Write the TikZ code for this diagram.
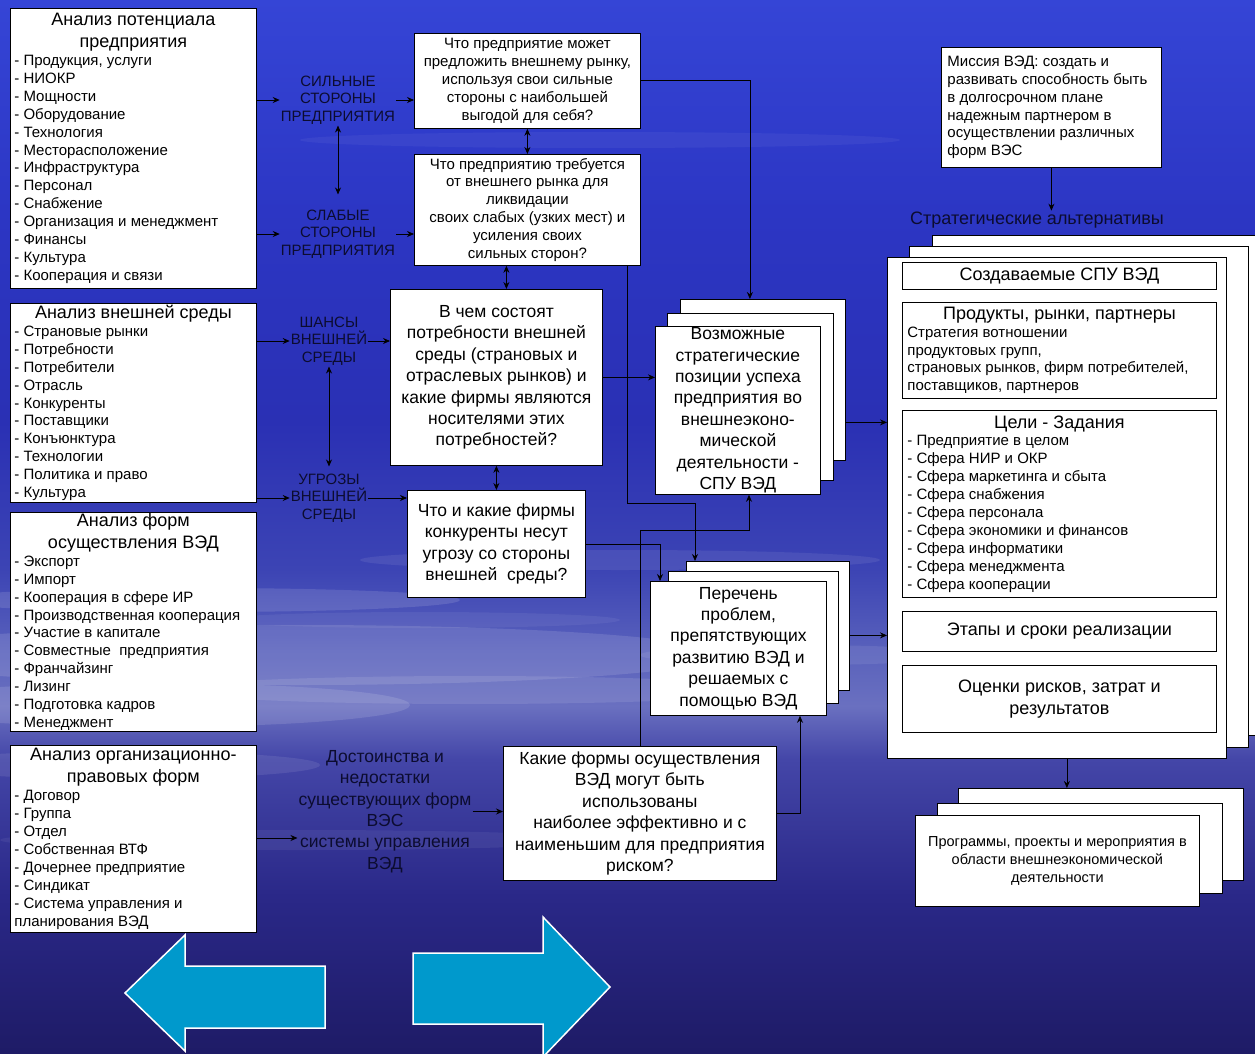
\documentclass[tikz,border=0pt]{standalone}
\usepackage{fontspec}
\setmainfont{Liberation Sans}
\usetikzlibrary{arrows.meta,calc}
\definecolor{lblc}{HTML}{0C0C30}
\definecolor{arrowblue}{HTML}{0099CC}
\definecolor{bgA}{HTML}{1E1B66}
\definecolor{bgB}{HTML}{2A2888}
\definecolor{bgC}{HTML}{4446A8}
\definecolor{bgD}{HTML}{6A70C0}
\definecolor{bgE}{HTML}{5A62BC}
\definecolor{bgF}{HTML}{3C44B4}
\definecolor{bgG}{HTML}{2A30B4}
\definecolor{bgH}{HTML}{2C36C4}
\definecolor{bgI}{HTML}{3545D6}
\pgfdeclareverticalshading{bgshade}{100bp}{color(0bp)=(bgA); color(25bp)=(bgA); color(32.5bp)=(bgB); color(39bp)=(bgC); color(41.5bp)=(bgD); color(44bp)=(bgE); color(48bp)=(bgF); color(55bp)=(bgG); color(65bp)=(bgH); color(75bp)=(bgI); color(100bp)=(bgI)}
\newcommand\fs[2]{\fontsize{#1}{#2}\selectfont}
\newcommand\ttl{\fontsize{18}{22}\selectfont}
\newcommand\lst{\fontsize{15}{17.9}\selectfont}
\newcommand\lstbox[3]{\parbox{#1}{\centering\ttl #2\par\raggedright\lst #3\par}}
\tikzset{
  box/.style={draw=black, line width=0.8pt, fill=white, inner sep=0pt, text=black, anchor=north west},
  bigtxt/.style={box, align=center, font=\fs{17.5}{21.4}},
  smalltxt/.style={box, align=center, font=\fs{15}{17.9}},
  lbl/.style={text=lblc, align=center, inner sep=1pt, font=\fs{15}{17.6}},
  arr/.style={-{Stealth[length=7pt,width=6pt]}, line width=0.8pt, draw=black},
  darr/.style={{Stealth[length=7pt,width=6pt]}-{Stealth[length=7pt,width=6pt]}, line width=0.8pt, draw=black},
  bigarrow/.style={fill=arrowblue, draw=white, line width=1.5pt, line join=miter},
  cloud/.style={fill=white, opacity=#1}
}
\begin{document}
\begin{tikzpicture}[x=1pt,y=-1pt]
\shade[shading=bgshade] (0,0) rectangle (1255,1054);
\useasboundingbox (0,0) rectangle (1255,1054);
% cloud streaks
\fill[cloud=0.12] (200,600) ellipse [x radius=260, y radius=12];
\fill[cloud=0.12] (300,655) ellipse [x radius=420, y radius=30];
\fill[cloud=0.12] (150,705) ellipse [x radius=260, y radius=22];
\fill[cloud=0.10] (470,690) ellipse [x radius=300, y radius=14];
\fill[cloud=0.09] (120,765) ellipse [x radius=200, y radius=14];
\fill[cloud=0.08] (620,560) ellipse [x radius=260, y radius=10];
\fill[cloud=0.08] (800,655) ellipse [x radius=160, y radius=10];
\fill[cloud=0.06] (300,840) ellipse [x radius=300, y radius=10];
\fill[cloud=0.06] (420,620) ellipse [x radius=200, y radius=8];
\fill[cloud=0.05] (600,140) ellipse [x radius=300, y radius=8];

% left analysis boxes
\node[box, minimum width=246, minimum height=280] (pot) at (10,8)
 {\lstbox{238pt}{Анализ потенциала\\предприятия}{- Продукция, услуги\\- НИОКР\\- Мощности\\- Оборудование\\- Технология\\- Месторасположение\\- Инфраструктура\\- Персонал\\- Снабжение\\- Организация и менеджмент\\- Финансы\\- Культура\\- Кооперация и связи}};
\node[box, minimum width=246, minimum height=199] (ext) at (10,303)
 {\lstbox{238pt}{Анализ внешней среды}{- Страновые рынки\\- Потребности\\- Потребители\\- Отрасль\\- Конкуренты\\- Поставщики\\- Конъюнктура\\- Технологии\\- Политика и право\\- Культура}};
\node[box, minimum width=246, minimum height=219] (frm) at (10,512)
 {\lstbox{238pt}{Анализ форм\\осуществления ВЭД}{- Экспорт\\- Импорт\\- Кооперация в сфере ИР\\- Производственная кооперация\\- Участие в капитале\\- Совместные\ \ предприятия\\- Франчайзинг\\- Лизинг\\- Подготовка кадров\\- Менеджмент}};
\node[box, minimum width=246, minimum height=187] (org) at (10,745)
 {\lstbox{238pt}{Анализ организационно-\\правовых форм}{- Договор\\- Группа\\- Отдел\\- Собственная ВТФ\\- Дочернее предприятие\\- Синдикат\\- Система управления и\\планирования ВЭД}};

% labels
\node[lbl] (sil) at (338,100) {СИЛЬНЫЕ\\СТОРОНЫ\\ПРЕДПРИЯТИЯ};
\node[lbl] (sla) at (338,234) {СЛАБЫЕ\\СТОРОНЫ\\ПРЕДПРИЯТИЯ};
\node[lbl] (sha) at (329,341) {ШАНСЫ\\ВНЕШНЕЙ\\СРЕДЫ};
\node[lbl] (ugr) at (329,498) {УГРОЗЫ\\ВНЕШНЕЙ\\СРЕДЫ};
\node[lbl, font=\fs{17.5}{21.4}] (dost) at (385,811.5) {Достоинства и\\недостатки\\существующих форм\\ВЭС\\системы управления\\ВЭД};
\node[lbl, font=\fs{18}{22}] (strat) at (1037,220) {Стратегические альтернативы};

% question boxes
\node[smalltxt, minimum width=226, minimum height=95] (strong) at (414,33)
 {Что предприятие может\\предложить внешнему рынку,\\используя свои сильные\\стороны с наибольшей\\выгодой для себя?};
\node[smalltxt, minimum width=226, minimum height=111] (weak) at (414,154)
 {Что предприятию требуется\\от внешнего рынка для\\ликвидации\\своих слабых (узких мест) и\\усиления своих\\сильных сторон?};
\node[bigtxt, minimum width=212, minimum height=176] (vchem) at (390,289)
 {В чем состоят\\потребности внешней\\среды (страновых и\\отраслевых рынков) и\\какие фирмы являются\\носителями этих\\потребностей?};
\node[bigtxt, minimum width=178, minimum height=107] (chto) at (407,490)
 {Что и какие фирмы\\конкуренты несут\\угрозу со стороны\\внешней\ \ среды?};
\node[bigtxt, minimum width=273, minimum height=134] (kakie) at (503,746)
 {Какие формы осуществления\\ВЭД могут быть\\использованы\\наиболее эффективно и с\\наименьшим для предприятия\\риском?};

% SPU stack
\node[box, minimum width=165, minimum height=161] (spuB) at (680,299) {};
\node[box, minimum width=166, minimum height=167] (spuM) at (667,313) {};
\node[bigtxt, minimum width=165, minimum height=168] (spuF) at (655,326)
 {Возможные\\стратегические\\позиции успеха\\предприятия во\\внешнеэконо-\\мической\\деятельности -\\СПУ ВЭД};

% Perechen stack
\node[box, minimum width=163, minimum height=129] (perB) at (686,561) {};
\node[box, minimum width=170, minimum height=132] (perM) at (668,571) {};
\node[bigtxt, minimum width=176, minimum height=134] (perF) at (650,581)
 {Перечень\\проблем,\\препятствующих\\развитию ВЭД и\\решаемых с\\помощью ВЭД};

% mission
\node[box, minimum width=220, minimum height=120] (mis) at (941,47)
 {\parbox{208pt}{\raggedright\lst Миссия ВЭД: создать и\\развивать способность быть\\в долгосрочном плане\\надежным партнером в\\осуществлении различных\\форм ВЭС}};

% big stack
\node[box, minimum width=330, minimum height=500] (bigB) at (932,235) {};
\node[box, minimum width=339, minimum height=501] (bigM) at (909,246) {};
\node[box, minimum width=339, minimum height=501] (bigF) at (887,257) {};
\node[box, minimum width=314, minimum height=27, font=\ttl] (c1) at (902,262) {Создаваемые СПУ ВЭД};
\node[box, minimum width=314, minimum height=96] (c2) at (902,302)
 {\lstbox{304pt}{Продукты, рынки, партнеры}{Стратегия вотношении\\продуктовых групп,\\страновых рынков, фирм потребителей,\\поставщиков, партнеров}};
\node[box, minimum width=314, minimum height=187] (c3) at (902,410)
 {\lstbox{304pt}{Цели - Задания}{- Предприятие в целом\\- Сфера НИР и ОКР\\- Сфера маркетинга и сбыта\\- Сфера снабжения\\- Сфера персонала\\- Сфера экономики и финансов\\- Сфера информатики\\- Сфера менеджмента\\- Сфера кооперации}};
\node[box, minimum width=314, minimum height=40, font=\ttl] (c4) at (902,611) {Этапы и сроки реализации};
\node[box, minimum width=314, minimum height=67, align=center, font=\ttl] (c5) at (902,665) {Оценки рисков, затрат и\\результатов};

% programs stack
\node[box, minimum width=285, minimum height=92] (progB) at (958,788) {};
\node[box, minimum width=285, minimum height=90] (progM) at (937,803) {};
\node[smalltxt, minimum width=284, minimum height=91, font=\fs{14.5}{17.6}] (progF) at (915,815)
 {Программы, проекты и мероприятия в\\области внешнеэкономической\\деятельности};

% connectors: left side
\draw[arr] (pot.east |- sil.west) -- (sil.west);
\draw[arr] (sil.east) -- (sil.east -| strong.west);
\draw[arr] (pot.east |- sla.west) -- (sla.west);
\draw[arr] (sla.east) -- (sla.east -| weak.west);
\draw[darr, shorten >=14pt] (sil.south) -- (sla.north);
\draw[arr] (ext.east |- sha.west) -- (sha.west);
\draw[arr] (sha.east) -- (sha.east -| vchem.west);
\draw[arr] (ext.east |- ugr.west) -- (ugr.west);
\draw[arr] (ugr.east) -- (ugr.east -| chto.west);
\draw[darr, shorten >=6pt] (sha.south) -- (ugr.north);
\draw[arr] (org.east |- 0,838) -- (dost.west |- 0,838);
\draw[arr] (dost.east) -- (dost.east -| kakie.west);

% between question boxes
\draw[darr] (strong.south) -- (weak.north);
\draw[darr] ([xshift=10pt]vchem.north |- weak.south) -- ([xshift=10pt]vchem.north);
\draw[darr] (vchem.south) -- (chto.north);

% connectors: middle
\draw[arr] (strong.east) -| ([xshift=-13pt]spuB.north);
\draw[arr] ([xshift=-13pt]weak.south east) -- ++(0,238) -| ([xshift=9pt]perB.north west);
\draw[arr] (chto.east) -| ([xshift=10pt]perF.north west);
\draw[arr] ([xshift=137pt]kakie.north west) -- ++(0,-216) -| ([xshift=94pt]spuF.south west);
\draw[arr] (kakie.east) -| ([xshift=150pt]perF.south west);
\draw[arr] (vchem.east) -- (vchem.east -| spuF.west);
\path (spuF.east) ++(0,12) coordinate (q1);
\draw[arr] (q1 -| spuB.east) -- (q1 -| bigF.west);
\path (perF.east) ++(0,-13) coordinate (q2);
\draw[arr] (q2 -| perB.east) -- (q2 -| bigF.west);

% right side
\draw[arr] (mis.south) -- (mis.south |- strat.north);
\draw[arr] ([xshift=10pt]bigF.south) -- ([xshift=10pt]bigF.south |- progB.north);

% big blue arrows
\draw[bigarrow] (125,993) -- (185,935) -- (185,966) -- (325,966) -- (325,1028) -- (185,1028) -- (185,1051) -- cycle;
\draw[bigarrow] (413,953) -- (543,953) -- (543,917) -- (610,987) -- (543,1057) -- (543,1024) -- (413,1024) -- cycle;
\end{tikzpicture}
\end{document}
